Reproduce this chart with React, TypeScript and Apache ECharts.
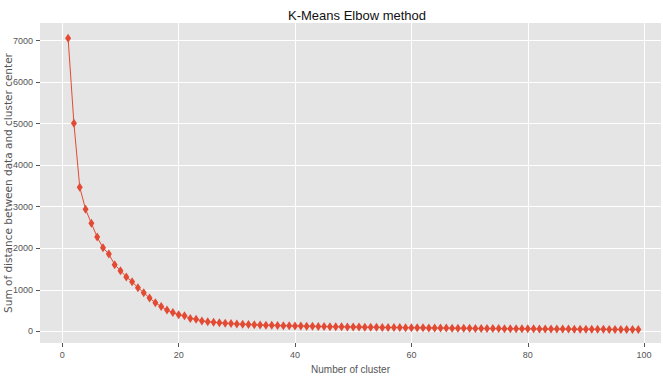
import React, { useEffect, useRef } from "react";
import * as echarts from "echarts";

const titleText = "K-Means Elbow method";
const xName = "Number of cluster";
const yName = "Sum of distance between data and cluster center";

const xTicks = [0, 20, 40, 60, 80, 100];
const yTicks = [0, 1000, 2000, 3000, 4000, 5000, 6000, 7000];

// inertia for k = 1..99
const inertia = [
  7060, 5010, 3470, 2940, 2600, 2270, 2010, 1860, 1605, 1460,
  1310, 1195, 1050, 930, 800, 690, 595, 510, 450, 400,
  372, 310, 292, 250, 232, 218, 207, 195, 185, 176,
  170, 163, 157, 152, 147, 143, 139, 135, 132, 129,
  126, 123, 120, 117, 115, 112, 110, 108, 106, 104,
  101, 99, 97, 96, 94, 92, 90, 89, 87, 86,
  84, 83, 81, 80, 78, 77, 76, 74, 73, 72,
  70, 69, 68, 67, 66, 64, 63, 62, 61, 60,
  59, 58, 57, 56, 55, 54, 53, 52, 51, 50,
  49, 48, 47, 46, 45, 44, 43, 42, 41,
];

const narrow = "'Liberation Sans Narrow', 'Liberation Sans', sans-serif";

export default function App() {
  const ref = useRef<HTMLDivElement>(null);
  useEffect(() => {
    if (!ref.current) return;
    const chart = echarts.init(ref.current, undefined, { renderer: "svg" });
    const data = inertia.map((v, i) => [i + 1, v]);
    chart.setOption({
      animation: false,
      backgroundColor: "#ffffff",
      title: {
        text: titleText,
        left: 352,
        top: 4,
        textAlign: "center",
        textStyle: { fontFamily: narrow, fontSize: 13, fontWeight: "normal", color: "#111" },
      },
      grid: {
        left: 40,
        right: 2,
        top: 23,
        bottom: 36,
        containLabel: false,
        outerBoundsMode: "none",
        show: true,
        backgroundColor: "#E5E5E5",
        borderWidth: 0,
      },
      xAxis: {
        type: "value",
        position: "bottom",
        min: -3.83,
        max: 102.9,
        name: xName,
        nameLocation: "middle",
        nameGap: 21,
        nameMoveOverlap: false,
        nameTextStyle: { fontFamily: narrow, fontSize: 10, color: "#555" },
        axisLine: { show: false, onZero: false },
        axisTick: { show: true, length: 4, customValues: xTicks, lineStyle: { color: "#555" } },
        axisLabel: {
          customValues: xTicks,
          formatter: (v: number) => String(v),
          fontFamily: narrow,
          fontSize: 9,
          color: "#555",
          margin: 7,
        },
        splitLine: { show: true, lineStyle: { color: "#ffffff", width: 1 } },
      },
      yAxis: {
        type: "value",
        position: "left",
        min: -282,
        max: 7426,
        name: yName,
        nameLocation: "middle",
        nameGap: 27,
        nameMoveOverlap: false,
        nameTextStyle: { fontFamily: "'DejaVu Sans', sans-serif", fontSize: 10.5, color: "#555" },
        axisLine: { show: false, onZero: false },
        axisTick: { show: true, length: 4, customValues: yTicks, lineStyle: { color: "#555" } },
        axisLabel: {
          customValues: yTicks,
          formatter: (v: number) => String(v),
          fontFamily: narrow,
          fontSize: 9,
          color: "#555",
          margin: 7,
        },
        splitLine: { show: true, lineStyle: { color: "#ffffff", width: 1 } },
      },
      series: [
        {
          type: "line",
          data,
          symbol: "diamond",
          symbolSize: [6, 9],
          itemStyle: { color: "#E24A33" },
          lineStyle: { color: "#E24A33", width: 1 },
        },
      ],
    });
    return () => chart.dispose();
  }, []);
  return (
    <div
      ref={ref}
      style={{ position: "fixed", left: 0, top: 0, width: 663, height: 379 }}
    />
  );
}
